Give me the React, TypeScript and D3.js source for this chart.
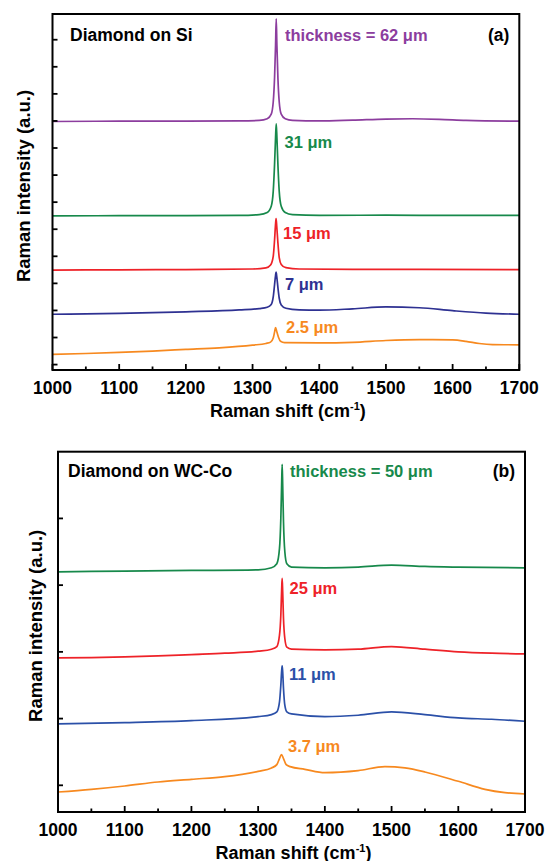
import React from 'react';
import * as d3 from 'd3';

// Raman shift axis ticks (cm-1)
const majorShifts = [1000, 1100, 1200, 1300, 1400, 1500, 1600, 1700];
const minorShifts = [1050, 1150, 1250, 1350, 1450, 1550, 1650];

// (a) diamond on Si, stacked spectra [shift, intensity a.u.]
const si62: [number, number][] = [
  [1000, 8.98], [1100, 8.99], [1200, 8.99], [1280, 9.0], [1310, 9.02], [1322, 9.08], [1328, 9.25],
  [1331, 9.7], [1333, 10.6], [1334.5, 11.8], [1335.5, 12.77], [1336.5, 11.8], [1338, 10.6], [1340, 9.7],
  [1343, 9.25], [1349, 9.08], [1360, 9.02], [1400, 9.0], [1450, 9.03], [1500, 9.07], [1540, 9.08],
  [1580, 9.06], [1620, 9.02], [1700, 8.99]
];
const si31: [number, number][] = [
  [1000, 5.49], [1100, 5.5], [1200, 5.5], [1280, 5.51], [1310, 5.54], [1322, 5.62], [1328, 5.85],
  [1331, 6.4], [1333, 7.4], [1334.5, 8.4], [1335.5, 8.89], [1336.5, 8.4], [1338, 7.4], [1340, 6.4],
  [1343, 5.85], [1349, 5.62], [1360, 5.54], [1400, 5.51], [1500, 5.52], [1600, 5.51], [1700, 5.51]
];
const si15: [number, number][] = [
  [1000, 3.49], [1100, 3.5], [1200, 3.51], [1300, 3.53], [1320, 3.57], [1327, 3.68], [1331, 4.0],
  [1333, 4.6], [1334.5, 5.2], [1335.3, 5.39], [1336.3, 5.1], [1338, 4.5], [1340, 3.95], [1343, 3.7],
  [1350, 3.58], [1370, 3.53], [1450, 3.52], [1550, 3.52], [1700, 3.51]
];
const si7: [number, number][] = [
  [1000, 1.86], [1100, 1.89], [1200, 1.95], [1280, 2.02], [1310, 2.07], [1322, 2.12], [1328, 2.22],
  [1331, 2.5], [1333, 2.95], [1334.5, 3.3], [1335.3, 3.42], [1336.3, 3.25], [1338, 2.85], [1340, 2.45],
  [1343, 2.2], [1350, 2.08], [1370, 2.02], [1400, 2.01], [1450, 2.06], [1500, 2.13], [1550, 2.1],
  [1600, 1.99], [1650, 1.9], [1700, 1.86]
];
const si2p5: [number, number][] = [
  [1000, 0.38], [1050, 0.41], [1100, 0.45], [1150, 0.5], [1200, 0.56], [1250, 0.62], [1300, 0.72],
  [1320, 0.78], [1327, 0.83], [1331, 0.98], [1333, 1.2], [1334.5, 1.37], [1336.5, 1.2], [1339, 1.0],
  [1342, 0.86], [1348, 0.81], [1400, 0.8], [1450, 0.82], [1500, 0.89], [1550, 0.92], [1600, 0.91],
  [1620, 0.86], [1640, 0.78], [1660, 0.74], [1700, 0.73]
];

// (b) diamond on WC-Co
const wc50: [number, number][] = [
  [1000, 3.2], [1100, 3.21], [1200, 3.22], [1300, 3.23], [1320, 3.26], [1328, 3.32], [1332, 3.55],
  [1334, 4.0], [1335.3, 4.55], [1336, 4.81], [1336.8, 4.5], [1338, 3.95], [1340, 3.5], [1343, 3.32],
  [1350, 3.27], [1400, 3.26], [1450, 3.27], [1500, 3.3], [1550, 3.28], [1600, 3.27], [1700, 3.26]
];
const wc25: [number, number][] = [
  [1000, 1.91], [1050, 1.915], [1100, 1.925], [1150, 1.94], [1200, 1.96], [1250, 1.98], [1300, 2.01],
  [1320, 2.04], [1328, 2.08], [1332, 2.25], [1334, 2.55], [1335.3, 2.95], [1336, 3.1], [1336.8, 2.9],
  [1338, 2.5], [1340, 2.2], [1343, 2.07], [1350, 2.04], [1400, 2.03], [1450, 2.04], [1500, 2.08],
  [1550, 2.04], [1600, 2.0], [1650, 1.98], [1700, 1.97]
];
const wc11: [number, number][] = [
  [1000, 0.92], [1100, 0.94], [1200, 0.97], [1300, 1.03], [1320, 1.06], [1328, 1.1], [1332, 1.25],
  [1334, 1.5], [1335.3, 1.72], [1336, 1.79], [1336.8, 1.7], [1338, 1.45], [1340, 1.2], [1343, 1.1],
  [1350, 1.07], [1400, 1.03], [1450, 1.05], [1500, 1.1], [1550, 1.06], [1600, 1.01], [1650, 0.99],
  [1700, 0.96]
];
const wc3p7: [number, number][] = [
  [1000, -0.1], [1050, -0.06], [1100, -0.01], [1150, 0.05], [1200, 0.09], [1250, 0.13], [1300, 0.21],
  [1320, 0.26], [1328, 0.31], [1332, 0.4], [1335, 0.46], [1338, 0.4], [1342, 0.31], [1348, 0.28],
  [1370, 0.24], [1400, 0.19], [1450, 0.22], [1490, 0.28], [1520, 0.26], [1550, 0.2], [1600, 0.06],
  [1640, -0.06], [1670, -0.11], [1700, -0.13]
];

const siTicks = [0, 1, 2, 3, 4, 5, 6, 7, 8, 9, 10, 11, 12];
const wcTicks = [0, 1, 2, 3, 4];

const FONT = '"Liberation Sans", Arial, Helvetica, sans-serif';

const purple = '#8c3d9e';
const green = '#17894b';
const red = '#ee2228';
const navy = '#2e3192';
const blue = '#2b50a8';
const orange = '#f7891f';

function Panel(props: any) {
  const { left, right, top, bottom, yDomain, yTicks, series, tag, title, titleX, titleY, yTitleX } = props;
  const x = d3.scaleLinear().domain([1000, 1700]).range([left, right]);
  const y = d3.scaleLinear().domain(yDomain).range([bottom, top]);
  const line = d3.line<[number, number]>()
    .x(d => x(d[0]))
    .y(d => y(d[1]))
    .curve(d3.curveMonotoneX);

  return (
    <g>
      {series.map((s: any, i: number) => (
        <path key={i} d={line(s.data) || ''} fill="none" stroke={s.color} strokeWidth={1.7} strokeLinejoin="round" />
      ))}
      {series.map((s: any, i: number) => (
        <text key={'l' + i} x={s.lx} y={s.ly} fill={s.color} fontSize={16.5} fontWeight="bold" fontFamily={FONT}>
          {s.label}
        </text>
      ))}
      <rect x={left} y={top} width={right - left} height={bottom - top} fill="none" stroke="#000" strokeWidth={2} />
      {majorShifts.map(v => (
        <line key={'M' + v} x1={x(v)} x2={x(v)} y1={bottom} y2={bottom - 6} stroke="#000" strokeWidth={1.8} />
      ))}
      {minorShifts.map(v => (
        <line key={'m' + v} x1={x(v)} x2={x(v)} y1={bottom} y2={bottom - 3.5} stroke="#000" strokeWidth={1.8} />
      ))}
      {yTicks.map((v: number) => (
        <line key={'y' + v} x1={left} x2={left + 5} y1={y(v)} y2={y(v)} stroke="#000" strokeWidth={1.8} />
      ))}
      {majorShifts.map(v => (
        <text key={'t' + v} x={x(v)} y={bottom + 23.5} textAnchor="middle" fontSize={17.5} fontWeight="bold" fontFamily={FONT}>
          {v}
        </text>
      ))}
      <text x={(left + right) / 2 + 2} y={bottom + 46.5} textAnchor="middle" fontSize={18} fontWeight="bold" fontFamily={FONT}>
        Raman shift (cm<tspan dy={-7} fontSize={11}>-1</tspan><tspan dy={7}>)</tspan>
      </text>
      <text transform={`translate(${yTitleX},${(top + bottom) / 2 - 6}) rotate(-90)`} textAnchor="middle"
        dominantBaseline="central" fontSize={18.5} fontWeight="bold" fontFamily={FONT}>
        Raman intensity (a.u.)
      </text>
      <text x={titleX} y={titleY} fontSize={17.5} fontWeight="bold" fontFamily={FONT}>{title}</text>
      <text x={right - 10} y={titleY} textAnchor="end" fontSize={17.5} fontWeight="bold" fontFamily={FONT}>{tag}</text>
    </g>
  );
}

export default function App() {
  const topSeries = [
    { data: si62, color: purple, label: 'thickness = 62 μm', lx: 285, ly: 40.5 },
    { data: si31, color: green, label: '31 μm', lx: 284.5, ly: 147.5 },
    { data: si15, color: red, label: '15 μm', lx: 283, ly: 239 },
    { data: si7, color: navy, label: '7 μm', lx: 285, ly: 290 },
    { data: si2p5, color: orange, label: '2.5 μm', lx: 286, ly: 332.5 }
  ];
  const bottomSeries = [
    { data: wc50, color: green, label: 'thickness = 50 μm', lx: 290, ly: 477 },
    { data: wc25, color: red, label: '25 μm', lx: 289.5, ly: 594 },
    { data: wc11, color: blue, label: '11 μm', lx: 289, ly: 680 },
    { data: wc3p7, color: orange, label: '3.7 μm', lx: 288, ly: 751.5 }
  ];
  return (
    <svg width={548} height={861} style={{ position: 'absolute', left: 0, top: 0, background: '#fff' }}>
      <Panel left={52.5} right={519.3} top={14} bottom={370} yDomain={[-0.2, 12.95]} yTicks={siTicks}
        series={topSeries} tag="(a)" title="Diamond on Si" titleX={70} titleY={40.7} yTitleX={23} />
      <Panel left={58} right={525} top={451.7} bottom={812} yDomain={[-0.4, 5]} yTicks={wcTicks}
        series={bottomSeries} tag="(b)" title="Diamond on WC-Co" titleX={68} titleY={476.5} yTitleX={35} />
    </svg>
  );
}
